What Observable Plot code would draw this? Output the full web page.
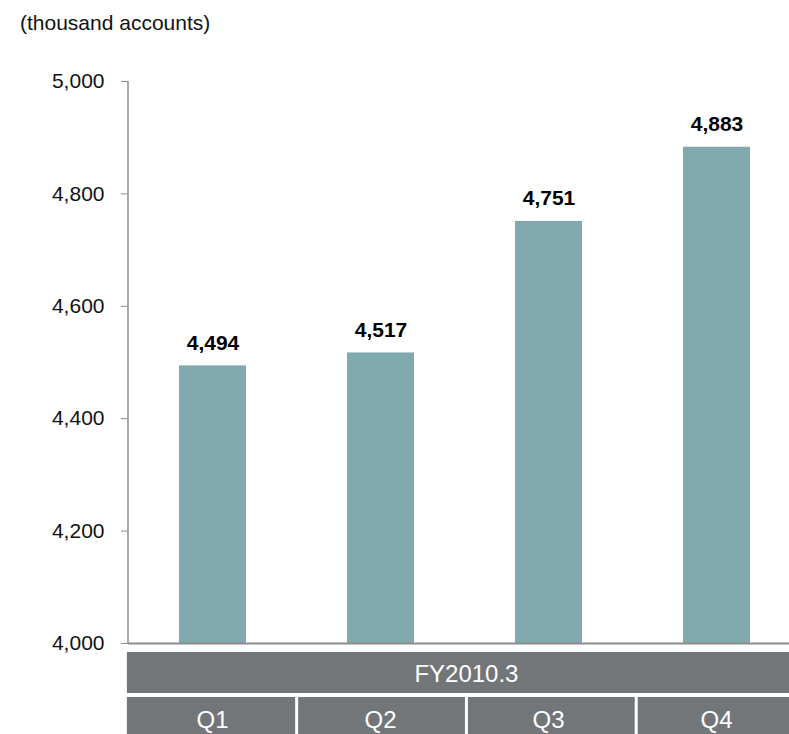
<!DOCTYPE html>
<html>
<head>
<meta charset="utf-8">
<script src="https://cdn.jsdelivr.net/npm/d3@7"></script>
<script src="https://cdn.jsdelivr.net/npm/@observablehq/plot@0.6"></script>
<style>
  html, body { margin: 0; padding: 0; background: #fff; }
  body { width: 789px; height: 734px; overflow: hidden; font-family: "Liberation Sans", Arial, sans-serif; }
  #title { height: 50px; box-sizing: border-box; padding: 12px 0 0 20px; font-size: 21px; color: #111; line-height: 1; }
  #chart svg { display: block; }
</style>
</head>
<body>
<div id="title">(thousand accounts)</div>
<div id="chart"></div>
<script>
const quarters = ["Q1", "Q2", "Q3", "Q4"];
const accounts = [4494, 4517, 4751, 4883];
const yTicks = [4000, 4200, 4400, 4600, 4800, 5000];
const fiscalYear = "FY2010.3";

const data = quarters.map((q, i) => ({quarter: q, value: accounts[i]}));
const fmt = d3.format(",");
const bandFill = "#737679";
const font = "Liberation Sans, Arial, sans-serif";

function bottomTable(index, scales, values, dimensions) {
  const x = scales.x, y = scales.y;
  const bw = x.bandwidth();
  const step = x.step ? x.step() : bw / 0.4;
  const cellStep = step * 1.0105;
  const g = d3.create("svg:g");
  const y0 = y(yTicks[0]);
  const left = x(quarters[0]) - (step - bw) / 2 - 1.6;
  const gridRight = left + cellStep * quarters.length;
  // y axis line
  g.append("line")
    .attr("x1", dimensions.marginLeft).attr("x2", dimensions.marginLeft)
    .attr("y1", y(yTicks[yTicks.length - 1])).attr("y2", y0)
    .attr("stroke", "#8c8c8c").attr("stroke-width", 1.5);
  // fiscal year band
  g.append("rect").attr("x", left).attr("y", y0 + 9).attr("width", gridRight - left).attr("height", 41).attr("fill", bandFill);
  g.append("text").attr("x", (left + gridRight) / 2)
    .attr("y", y0 + 31).attr("dy", "0.35em").attr("text-anchor", "middle")
    .attr("fill", "#fff").attr("font-size", 24).attr("font-family", font)
    .text(fiscalYear);
  // quarter cells
  quarters.forEach((q, i) => {
    const cl = left + i * cellStep + (i === 0 ? 0 : 1.5);
    const cr = left + (i + 1) * cellStep - 1.5;
    g.append("rect").attr("x", cl).attr("y", y0 + 54).attr("width", cr - cl).attr("height", 44).attr("fill", bandFill);
    g.append("text").attr("x", x(q) + bw / 2).attr("y", y0 + 77).attr("dy", "0.35em").attr("text-anchor", "middle")
      .attr("fill", "#fff").attr("font-size", 24).attr("font-family", font)
      .text(q);
  });
  return g.node();
}

const plot = Plot.plot({
  width: 789,
  height: 684,
  marginTop: 31,
  marginBottom: 91,
  marginLeft: 128,
  marginRight: 0,
  style: {fontFamily: font, fontSize: "21px", color: "#111", background: "#fff"},
  x: {type: "band", domain: quarters, range: [127.6, 802.4], paddingInner: 0.6, paddingOuter: 0.3, axis: null},
  y: {domain: [4000, 5000], axis: null},
  marks: [
    Plot.barY(data, {x: "quarter", y1: yTicks[0], y2: "value", fill: "#80a9ad"}),
    Plot.ruleY([yTicks[0]], {stroke: "#8c8c8c", strokeWidth: 2}),
    Plot.axisY({ticks: yTicks, tickFormat: fmt, tickSize: 7, tickPadding: 17, stroke: "#8c8c8c", fontSize: 21, fill: "#111", label: null}),
    Plot.text(data, {x: "quarter", y: "value", text: d => fmt(d.value), dy: -23, fontSize: 21, fontWeight: "bold", fill: "#000"}),
    bottomTable
  ]
});
document.getElementById("chart").appendChild(plot);
</script>
</body>
</html>
